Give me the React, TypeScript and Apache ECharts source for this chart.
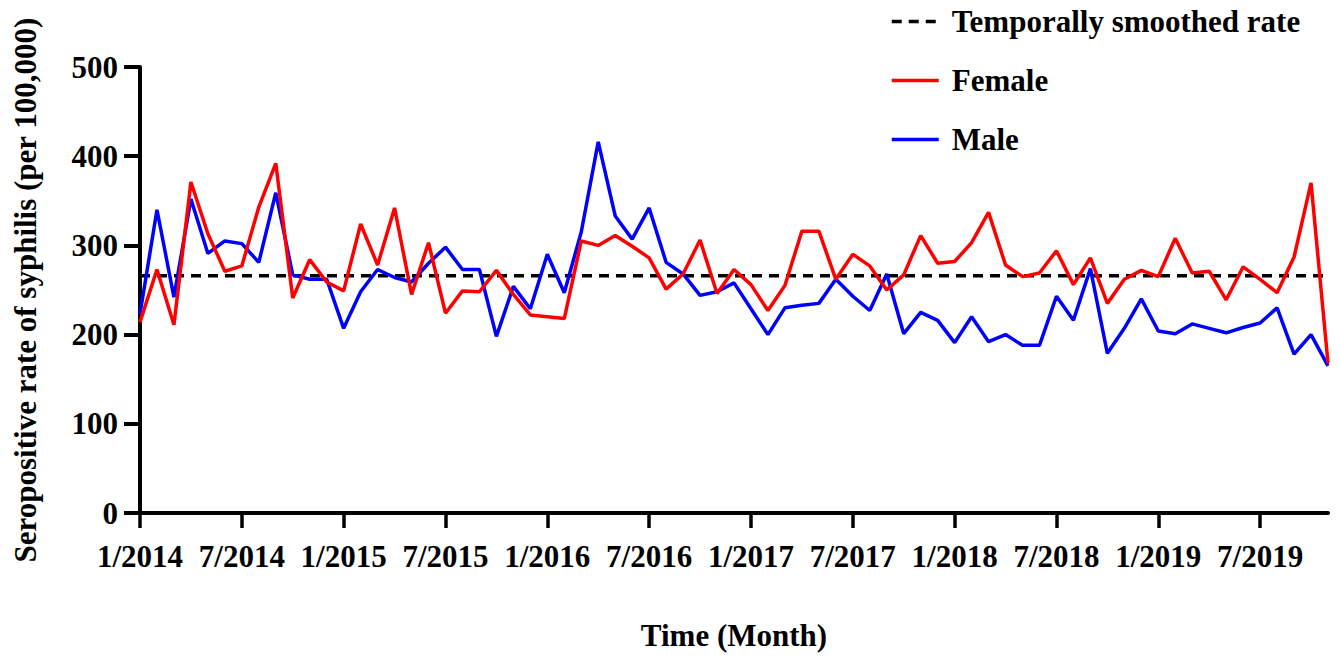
import React, { useEffect, useRef } from "react";
import * as echarts from "echarts";

const years = [2014, 2015, 2016, 2017, 2018, 2019];
const months: string[] = [];
for (const y of years) {
  for (let m = 1; m <= 12; m++) {
    if (y === 2019 && m === 12) break;
    months.push(`${m}/${y}`);
  }
}

const female = [
  214, 273, 211, 371, 313, 271, 277, 343, 392, 241, 284, 259,
  249, 324, 278, 342, 245, 303, 224, 249, 248, 272, 245, 222,
  220, 218, 305, 300, 311, 299, 286, 251, 268, 306, 246, 273,
  256, 227, 255, 316, 316, 262, 290, 277, 250, 267, 311, 280,
  282, 303, 337, 278, 265, 269, 294, 256, 286, 235, 262, 272,
  265, 308, 269, 271, 239, 276, 262, 247, 287, 370, 168,
];

const male = [
  223, 340, 242, 352, 291, 305, 302, 281, 359, 267, 262, 262,
  207, 248, 273, 264, 259, 280, 298, 273, 273, 198, 254, 229,
  290, 247, 315, 416, 333, 307, 342, 281, 268, 244, 248, 258,
  229, 200, 230, 233, 235, 262, 243, 227, 268, 201, 225, 216,
  191, 220, 192, 200, 188, 188, 243, 216, 274, 179, 207, 240,
  204, 201, 212, 207, 202, 208, 213, 230, 178, 200, 165,
];

const smoothedRate = 266;
const yTicks = [0, 100, 200, 300, 400, 500];

const FONT = "'Liberation Serif', 'Times New Roman', serif";

export default function App() {
  const ref = useRef<HTMLDivElement>(null);
  useEffect(() => {
    if (!ref.current) return;
    const chart = echarts.init(ref.current, undefined, { renderer: "svg" });
    const txt = { fontFamily: FONT, fontWeight: "bold" as const, fontSize: 31, color: "#000" };
    chart.setOption({
      animation: false,
      backgroundColor: "#fff",
      grid: { left: 140, right: 11, top: 67, bottom: 144, containLabel: false },
      legend: {
        orient: "vertical",
        left: 885,
        top: 1,
        itemWidth: 47,
        itemHeight: 30,
        itemGap: 28,
        itemStyle: { opacity: 0 },
        lineStyle: { width: 3.5 },
        textStyle: { ...txt, padding: [0, 0, 0, 8] },
        data: ["Temporally smoothed rate", "Female", "Male"],
      },
      xAxis: {
        type: "category",
        data: months,
        boundaryGap: false,
        name: "Time (Month)",
        nameLocation: "middle",
        nameGap: 107,
        nameTextStyle: txt,
        axisLine: { lineStyle: { color: "#000", width: 4 } },
        axisTick: { interval: 5, length: 15, lineStyle: { color: "#000", width: 3.5 } },
        axisLabel: { ...txt, interval: 5, margin: 28 },
        splitLine: { show: false },
      },
      yAxis: {
        type: "value",
        min: yTicks[0],
        max: yTicks[yTicks.length - 1],
        interval: 100,
        name: "Seropositive rate of syphilis (per 100,000)",
        nameLocation: "middle",
        nameGap: 99,
        nameTextStyle: txt,
        axisLine: { show: true, lineStyle: { color: "#000", width: 4 } },
        axisTick: { show: true, length: 16, lineStyle: { color: "#000", width: 4 } },
        axisLabel: { ...txt, margin: 22 },
        splitLine: { show: false },
      },
      series: [
        {
          name: "Temporally smoothed rate",
          type: "line",
          data: [
            [months[0], smoothedRate],
            [months[months.length - 1], smoothedRate],
          ],
          symbol: "none",
          lineStyle: { color: "#000", width: 3.5, type: [10, 7] },
          itemStyle: { color: "#000" },
          z: 1,
        },
        {
          name: "Female",
          type: "line",
          data: female,
          symbol: "none",
          lineStyle: { color: "#ff0000", width: 3.5 },
          itemStyle: { color: "#ff0000" },
          z: 3,
        },
        {
          name: "Male",
          type: "line",
          data: male,
          symbol: "none",
          lineStyle: { color: "#0000ff", width: 3.5 },
          itemStyle: { color: "#0000ff" },
          z: 2,
        },
      ],
    });
    return () => chart.dispose();
  }, []);
  return (
    <div
      ref={ref}
      style={{ position: "absolute", left: 0, top: 0, width: 1339, height: 657 }}
    />
  );
}
